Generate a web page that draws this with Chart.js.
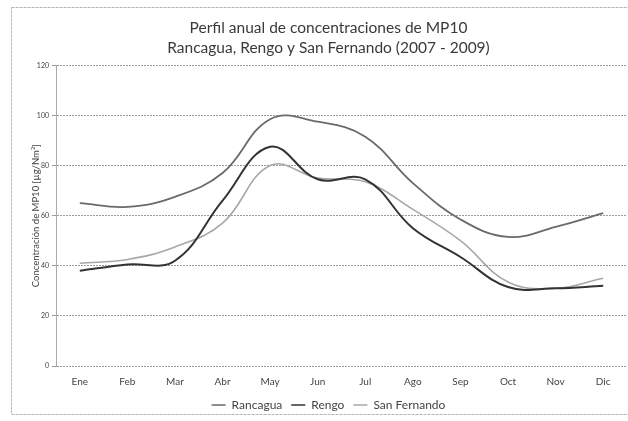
<!DOCTYPE html>
<html>
<head>
<meta charset="utf-8">
<script src="https://cdn.jsdelivr.net/npm/chart.js@4"></script>
<style>
  html, body { margin: 0; padding: 0; background: #fff; }
  #wrap { width: 628px; height: 421px; }
</style>
</head>
<body>
<div id="wrap"><canvas id="mp10Chart" width="628" height="421"></canvas></div>
<script>
// months and yearly profile values
const months = ["Ene", "Feb", "Mar", "Abr", "May", "Jun", "Jul", "Ago", "Sep", "Oct", "Nov", "Dic"];
const rancagua = [65, 63.5, 67.5, 77, 98.5, 97.5, 91.5, 73, 58.5, 51.5, 55.5, 61];
const rengo = [38, 40.5, 42, 66, 87.5, 74.5, 74.5, 55, 43.5, 31.5, 31, 32];
const sanFernando = [41, 42.5, 47.5, 57, 80, 75, 73.5, 62.5, 50, 33.5, 31, 35];
const yTicks = [0, 20, 40, 60, 80, 100, 120];

const titleLines = ["Perfil anual de concentraciones de MP10", "Rancagua, Rengo y San Fernando (2007 - 2009)"];

// faint frame of the scanned chart
const framePlugin = {
  id: "frame",
  beforeDraw(chart) {
    const c = chart.ctx;
    c.save();
    c.fillStyle = "#fff";
    c.fillRect(0, 0, chart.width, chart.height);
    c.strokeStyle = "#b5b5b5";
    c.lineWidth = 1;
    c.setLineDash([3, 1]);
    c.strokeRect(11.5, 7.5, 640, 407);
    c.restore();
  }
};

const ctx = document.getElementById("mp10Chart").getContext("2d");
new Chart(ctx, {
  type: "line",
  data: {
    labels: months,
    datasets: [
      { label: "Rancagua", data: rancagua, borderColor: "#6a6a6a", borderWidth: 1.8 },
      { label: "Rengo", data: rengo, borderColor: "#333333", borderWidth: 2 },
      { label: "San Fernando", data: sanFernando, borderColor: "#a8a8a8", borderWidth: 1.6 }
    ]
  },
  options: {
    responsive: false,
    animation: false,
    layout: { padding: { left: 30, right: 1, top: 6, bottom: 0 } },
    elements: {
      point: { radius: 0 },
      line: { tension: 0.4, fill: false }
    },
    plugins: {
      title: {
        display: true,
        text: titleLines,
        color: "#3a3a3a",
        font: { family: "Lato", size: 15.5, weight: "normal", lineHeight: 1.3 },
        padding: { top: 12, bottom: 7 }
      },
      legend: {
        position: "bottom",
        labels: {
          color: "#444",
          font: { family: "Lato", size: 12 },
          boxWidth: 14,
          boxHeight: 0,
          padding: 9,
          generateLabels(chart) {
            return chart.data.datasets.map((ds, i) => ({
              text: ds.label,
              strokeStyle: ds.borderColor,
              fillStyle: ds.borderColor,
              lineWidth: 1.5,
              datasetIndex: i,
              fontColor: "#444"
            }));
          }
        }
      },
      tooltip: { enabled: false }
    },
    scales: {
      x: {
        offset: true,
        grid: { display: false, drawTicks: false },
        border: { display: false },
        ticks: {
          color: "#444",
          font: { family: "Lato", size: 10 },
          padding: 10,
          maxRotation: 0
        },
        afterFit(scale) { scale.height = 24; }
      },
      y: {
        min: 0,
        max: 120,
        afterBuildTicks(scale) { scale.ticks = yTicks.map(v => ({ value: v })); },
        grid: { color: "#9a9a9a", lineWidth: 1, drawTicks: true, tickLength: 4 },
        border: { display: true, color: "#aaa", dash: [2, 1] },
        ticks: {
          color: "#444",
          font: { family: "Lato", size: 7 },
          padding: 3
        },
        title: {
          display: true,
          text: "Concentración de MP10 [µg/Nm³]",
          color: "#444",
          font: { family: "Lato", size: 9.5 },
          padding: { top: 0, bottom: 0 }
        },
        afterFit(scale) { scale.width = 26; }
      }
    }
  },
  plugins: [framePlugin]
});
</script>
</body>
</html>
